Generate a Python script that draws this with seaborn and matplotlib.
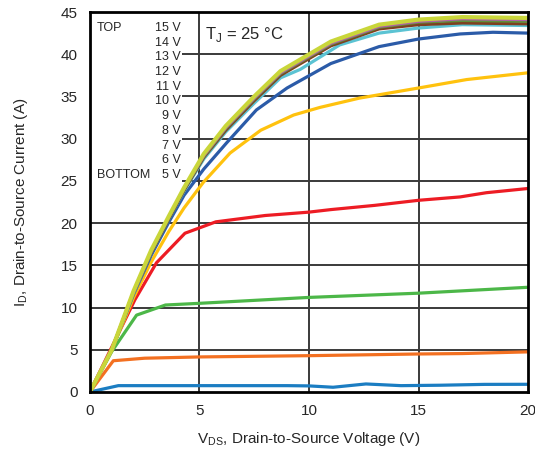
import pandas as pd
import matplotlib.pyplot as plt
from matplotlib.patches import Rectangle
import seaborn as sns

# output curves, one pair of lists per gate voltage
v5_x = [0, 1.3, 3, 5, 7, 9, 10, 11.1, 12.6, 14.2, 16, 18, 20]
v5_y = [0, 0.75, 0.75, 0.75, 0.75, 0.75, 0.72, 0.56, 0.95, 0.75, 0.8, 0.9, 0.91]

v6_x = [0, 1.07, 2.5, 5, 10, 15, 17, 20]
v6_y = [0, 3.7, 4.0, 4.15, 4.3, 4.5, 4.55, 4.75]

v7_x = [0, 1.0, 2.13, 3.45, 5, 10, 15, 20]
v7_y = [0, 4.8, 9.1, 10.3, 10.5, 11.2, 11.7, 12.4]

v8_x = [0, 2.05, 3.04, 4.34, 5.75, 8, 10, 11, 13, 15, 16.9, 18.1, 20]
v8_y = [0, 10.9, 15.3, 18.8, 20.15, 20.9, 21.3, 21.6, 22.1, 22.7, 23.1, 23.6, 24.1]

v9_x = [0, 1.0, 2.0, 2.8, 3.6, 4.3, 5.17, 6.4, 7.8, 9.3, 10.5, 12.3, 15, 17.2, 20]
v9_y = [0, 5.0, 11.2, 15.4, 19.0, 21.8, 24.8, 28.3, 31.0, 32.8, 33.7, 34.8, 36.0, 37.0, 37.8]

v10_x = [0, 1.0, 2.0, 2.8, 3.6, 4.3, 5.2, 6.24, 7.6, 9.0, 11.0, 13.2, 15, 16.9, 18.4, 20]
v10_y = [0, 5.0, 11.6, 16.2, 20.1, 23.3, 26.4, 29.5, 33.4, 36.0, 38.9, 40.9, 41.8, 42.4, 42.6, 42.5]

v11_x = [0, 1, 2, 2.8, 3.6, 4.3, 5.2, 6.2, 7.5, 8.7, 9.6, 11.4, 13.2, 15, 17, 20]
v11_y = [0, 5, 11.7, 16.5, 20.5, 23.8, 27.6, 30.8, 34.2, 37.2, 38.2, 41.1, 42.5, 43.1, 43.5, 43.4]

top_x = [0, 1, 2, 2.8, 3.6, 4.3, 5.2, 6.2, 7.5, 8.7, 11, 13.2, 15, 17, 20]
v12_y = [0, 5, 11.8, 16.5, 20.5, 23.9, 27.8, 31.0, 34.5, 37.5, 41.0, 43.0, 43.5, 43.7, 43.6]
v13_y = [0, 5, 11.9, 16.6, 20.6, 24.0, 27.9, 31.2, 34.7, 37.7, 41.2, 43.2, 43.8, 44.0, 43.9]
v14_y = [0, 5, 11.9, 16.7, 20.7, 24.1, 28.0, 31.3, 34.8, 37.8, 41.3, 43.3, 43.9, 44.2, 44.1]
v15_y = [0, 5, 12.0, 16.8, 20.8, 24.2, 28.2, 31.5, 35.0, 38.0, 41.5, 43.5, 44.1, 44.4, 44.3]

gate_labels = ['15 V', '14 V', '13 V', '12 V', '11 V', '10 V', '9 V', '8 V', '7 V', '6 V', '5 V']

series = {
    '5 V': (v5_x, v5_y), '6 V': (v6_x, v6_y), '7 V': (v7_x, v7_y), '8 V': (v8_x, v8_y),
    '9 V': (v9_x, v9_y), '10 V': (v10_x, v10_y), '11 V': (v11_x, v11_y),
    '12 V': (top_x, v12_y), '13 V': (top_x, v13_y), '14 V': (top_x, v14_y), '15 V': (top_x, v15_y),
}
rows = []
for k, (xs, ys) in series.items():
    for x, y in zip(xs, ys):
        rows.append({'vds': x, 'id': y, 'vgs': k})
df = pd.DataFrame(rows)

colors = {'5 V': '#1b7dc2', '6 V': '#f37021', '7 V': '#4cb748', '8 V': '#ed1c24',
          '9 V': '#ffc20e', '10 V': '#2b5ba8', '11 V': '#5bc3d3', '12 V': '#7f3f1f',
          '13 V': '#5f8f3a', '14 V': '#b05fa8', '15 V': '#c9d63a'}

sns.set_style('white')
plt.rcParams['font.family'] = ['Liberation Sans', 'DejaVu Sans']
plt.rcParams['mathtext.fontset'] = 'custom'
plt.rcParams['mathtext.rm'] = 'Liberation Sans'

fig = plt.figure(figsize=(5.35, 4.53), dpi=100)
ax = fig.add_axes([0.168, 0.1347, 0.819, 0.8388])

# grid drawn by hand so the label block can cover it
for gx in [5, 10, 15]:
    ax.axvline(gx, color='#3a3a3a', lw=1.4, zorder=0.5)
for gy in [5, 10, 15, 20, 25, 30, 35, 40]:
    ax.axhline(gy, color='#3a3a3a', lw=1.4, zorder=0.5)
ax.add_patch(Rectangle((0.05, 24.6), 4.15, 20.3, facecolor='white', edgecolor='none', zorder=0.8))

sns.lineplot(data=df, x='vds', y='id', hue='vgs', palette=colors, estimator=None,
             sort=False, linewidth=2.3, legend=False, ax=ax, zorder=2)
ax.lines[-1].set_linewidth(3.0)

ax.set_xlim(0, 20)
ax.set_ylim(0, 45)
ax.set_xticks([0, 5, 10, 15, 20])
ax.set_yticks(range(0, 50, 5))
ax.tick_params(axis='y', direction='in', length=4, width=1.2, labelsize=11, pad=9, color='black')
ax.tick_params(axis='x', direction='in', length=0, labelsize=11, pad=9)
for s in ax.spines.values():
    s.set_linewidth(2)
    s.set_color('black')
    s.set_zorder(3)

ax.set_xlabel(r'V$_\mathregular{DS}$, Drain-to-Source Voltage (V)', fontsize=11, labelpad=8.5)
ax.set_ylabel(r'I$_\mathregular{D}$, Drain-to-Source Current (A)', fontsize=11, labelpad=22)

ax.text(205 / 535, 1 - 35 / 453, r'T$_\mathregular{J}$ = 25 °C', transform=fig.transFigure,
        fontsize=12, va='center', ha='left')
ax.text(97 / 535, 1 - 28 / 453, 'TOP', transform=fig.transFigure, fontsize=9, va='center')
ax.text(97 / 535, 1 - 175 / 453, 'BOTTOM', transform=fig.transFigure, fontsize=9, va='center')
for i, lab in enumerate(gate_labels):
    ax.text(181 / 535, 1 - (28 + i * 14.7) / 453, lab, transform=fig.transFigure,
            fontsize=9, va='center', ha='right')

fig.savefig('out.png', dpi=100)
